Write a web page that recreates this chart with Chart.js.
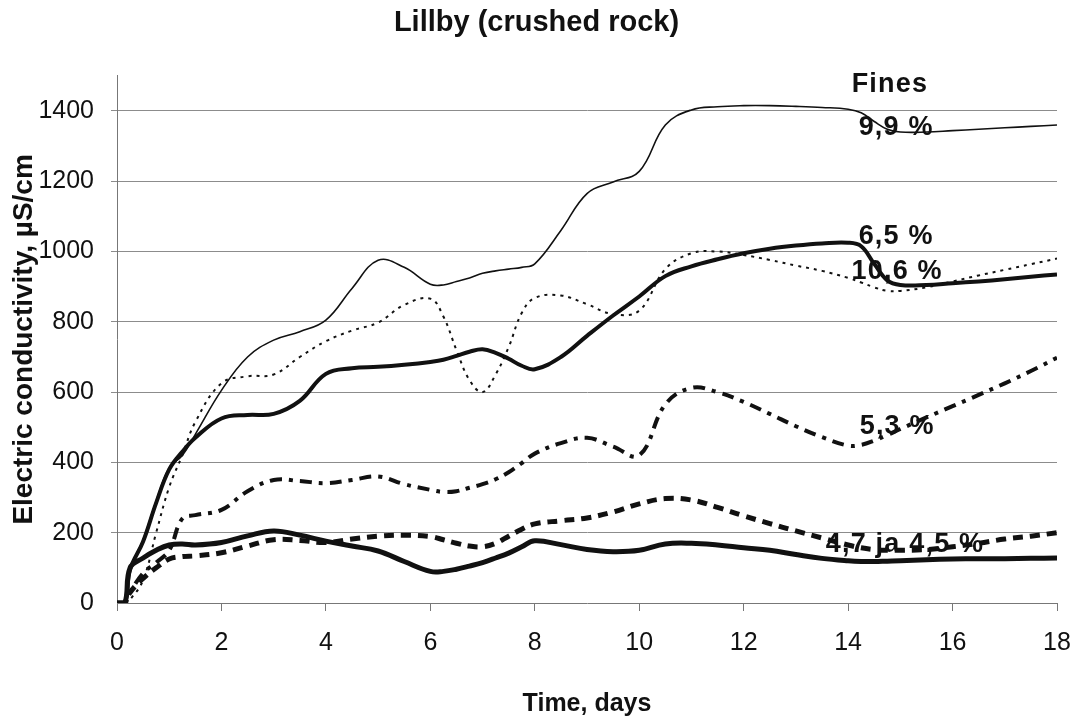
<!DOCTYPE html>
<html><head><meta charset="utf-8">
<script src="https://cdn.jsdelivr.net/npm/chart.js@4"></script>
<style>html,body{margin:0;padding:0;background:#fff}#wrap{width:1078px;height:726px;position:relative}</style>
</head><body><div id="wrap"><canvas id="c"></canvas></div>
<script>
// ---- data (time in days, electric conductivity in µS/cm) ----
const days = [0,0.15,0.25,0.5,0.75,1,1.25,1.5,2,2.5,3,3.5,4,4.5,5,5.5,6,6.25,6.5,6.75,7,7.25,7.5,7.75,8,8.5,9,9.5,10,10.5,11,11.5,12,12.5,13,13.5,14,14.25,14.5,14.75,15,15.5,16,16.5,17,17.5,18];

const fines99 = [0,0,95,180,290,385,420,480,605,700,748,772,805,895,975,955,907,905,915,925,938,945,950,955,965,1060,1165,1198,1228,1360,1403,1412,1415,1415,1413,1410,1405,1395,1370,1348,1340,1340,1344,1348,1352,1356,1360];
const fines65 = [0,0,95,175,285,380,430,470,525,535,538,575,652,668,672,678,686,692,703,715,722,712,695,675,665,700,760,818,872,930,958,978,995,1008,1017,1023,1025,1015,965,918,905,905,910,915,921,928,935];
const fines106 = [0,0,10,65,200,330,420,515,625,645,650,700,745,775,798,848,866,815,720,634,600,650,728,825,868,875,850,822,832,950,995,1000,990,976,960,945,925,912,898,888,888,898,915,932,948,964,980];
const fines53 = [0,0,30,85,115,150,240,250,265,318,350,347,341,350,360,338,322,316,318,328,338,352,372,398,425,455,470,445,420,565,612,600,572,538,503,472,448,450,462,478,495,528,560,592,625,660,698];
const fines45 = [0,0,30,70,100,125,132,134,143,162,180,178,172,182,190,193,189,180,170,162,160,170,190,210,225,234,242,259,282,297,293,272,248,226,205,185,165,157,152,150,150,152,160,170,182,190,200];
const fines47 = [0,0,100,128,150,165,168,165,172,191,205,193,176,162,148,118,90,90,96,105,115,128,142,160,177,166,152,146,150,168,170,165,157,150,138,127,120,118,118,119,120,123,125,126,126,127,128];

const xTicks = [0,2,4,6,8,10,12,14,16,18];
const yTicks = [0,200,400,600,800,1000,1200,1400];

const noteTexts  = ['Fines','9,9 %','6,5 %','10,6 %','5,3 %','4,7 ja 4,5 %'];
const noteDays   = [14.8,14.92,14.92,14.94,14.94,15.09];
const noteValues = [1474,1354,1044,942,501,165];

// ---- chart ----
const FONT = '"Liberation Sans", Arial, Helvetica, sans-serif';
const pts = arr => arr.map((v,i)=>({x:days[i], y:v}));

const notesPlugin = {
  id:'notes',
  afterDatasetsDraw(chart){
    const {ctx, scales:{x,y}} = chart;
    ctx.save();
    ctx.fillStyle = '#111';
    ctx.font = 'bold 27px ' + FONT;
    ctx.textAlign = 'center';
    ctx.textBaseline = 'middle';
    try { ctx.letterSpacing = '1.2px'; } catch(e){}
    noteTexts.forEach((t,i)=>{
      ctx.fillText(t, x.getPixelForValue(noteDays[i]), y.getPixelForValue(noteValues[i]));
    });
    ctx.restore();
  }
};

const base = {pointRadius:0, pointHoverRadius:0, fill:false, tension:0.4, borderColor:'#111', borderCapStyle:'butt'};

new Chart(document.getElementById('c'), {
  type:'line',
  data:{datasets:[
    {...base, label:'9,9 %', data:pts(fines99), borderWidth:1.6},
    {...base, label:'6,5 %', data:pts(fines65), borderWidth:4},
    {...base, label:'10,6 %', data:pts(fines106), borderWidth:2, borderDash:[3,5]},
    {...base, label:'5,3 %', data:pts(fines53), borderWidth:4, borderDash:[12,7,4,7]},
    {...base, label:'4,5 %', data:pts(fines45), borderWidth:5, borderDash:[10,7]},
    {...base, label:'4,7 %', data:pts(fines47), borderWidth:5}
  ]},
  options:{
    responsive:true, maintainAspectRatio:false, animation:false,
    layout:{padding:{left:0,right:5,top:0,bottom:0}},
    plugins:{
      legend:{display:false}, tooltip:{enabled:false},
      title:{display:true, text:'Lillby (crushed rock)', color:'#111',
        font:{family:FONT, size:29, weight:'bold'}, padding:{top:6,bottom:35}}
    },
    scales:{
      x:{type:'linear', min:0, max:18,
        afterBuildTicks: s => { s.ticks = xTicks.map(v=>({value:v})); },
        afterFit: s => { s.height = 123; s.paddingRight = 21; s.paddingLeft = 0; },
        ticks:{color:'#111', font:{family:FONT, size:25}, padding:17, maxRotation:0, callback: v => String(v)},
        grid:{drawOnChartArea:false, drawTicks:true, tickLength:8, color:'#777'},
        border:{display:true, color:'#777', width:1},
        title:{display:true, text:'Time, days', color:'#111', font:{family:FONT, size:25, weight:'bold'}, padding:{top:0,bottom:7}}
      },
      y:{min:0, max:1500,
        afterBuildTicks: s => { s.ticks = yTicks.map(v=>({value:v})); },
        afterFit: s => { s.width = 117; },
        ticks:{color:'#111', font:{family:FONT, size:25}, padding:17, callback: v => String(v)},
        grid:{color: c => (c.tick && c.tick.value === 0) ? 'rgba(0,0,0,0)' : '#8c8c8c', lineWidth:1, tickLength:6},
        border:{display:true, color:'#777', width:1},
        title:{display:true, text:'Electric conductivity, µS/cm', color:'#111', font:{family:FONT, size:28, weight:'bold'}, padding:{top:7,bottom:0}}
      }
    }
  },
  plugins:[notesPlugin]
});
</script></body></html>
